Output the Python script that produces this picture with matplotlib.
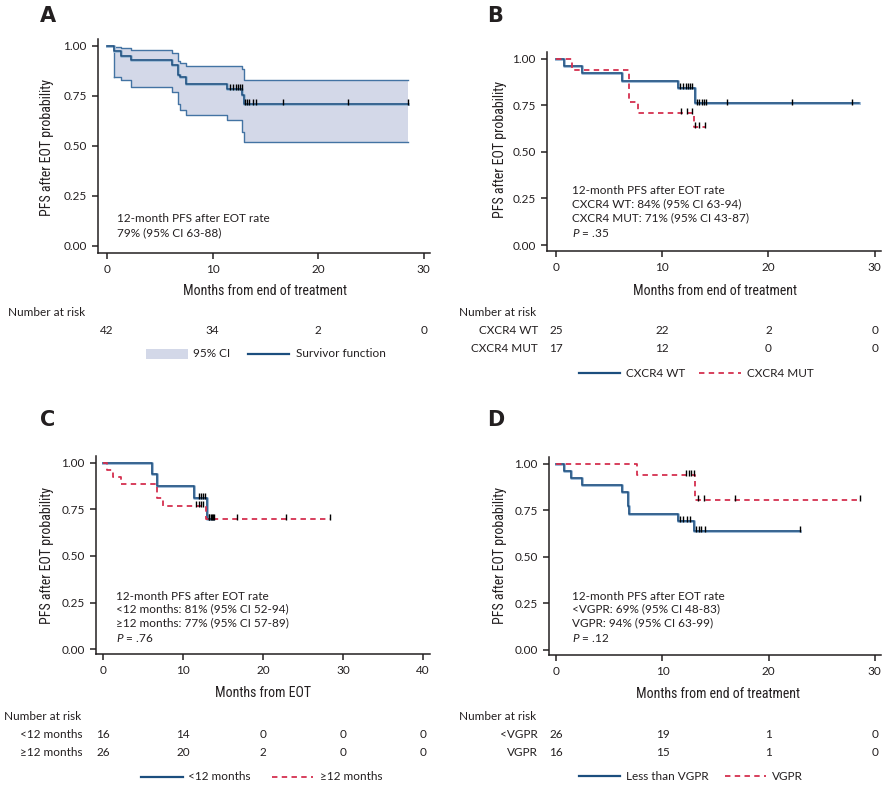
import numpy as np
import matplotlib
matplotlib.use("Agg")
import matplotlib.pyplot as plt
from matplotlib import font_manager
from matplotlib.transforms import blended_transform_factory
from matplotlib.patches import Rectangle
from matplotlib.lines import Line2D

W, H = 891, 790

# ---- data ----
# panel A: all patients
a_times = [0.69, 1.32, 2.26, 6.13, 6.76, 6.9, 7.5, 11.4, 12.8, 12.95]
a_surv = [0.976, 0.952, 0.929, 0.905, 0.857, 0.845, 0.81, 0.787, 0.755, 0.71]
a_upper = [0.997, 0.988, 0.98, 0.966, 0.924, 0.915, 0.899, 0.899, 0.883, 0.831]
a_lower = [0.845, 0.83, 0.797, 0.769, 0.708, 0.68, 0.654, 0.628, 0.57, 0.52]
a_cens = [11.68, 11.93, 12.18, 12.43, 12.62, 12.78, 13.03, 13.25, 13.5, 13.8, 14.07, 16.7, 22.8, 28.5]
a_end = 28.5
a_risk = [42, 34, 2, 0]

# panel B: CXCR4
b_wt_times = [0.75, 2.4, 6.2, 11.45, 13.05]
b_wt_surv = [0.96, 0.92, 0.88, 0.843, 0.759]
b_wt_cens = [11.7, 11.95, 12.2, 12.4, 12.65, 12.83, 13.27, 13.49, 13.71, 13.9, 14.09, 16.1, 22.2, 27.9]
b_wt_end = 28.5
b_mut_times = [1.48, 6.9, 7.7, 12.95]
b_mut_surv = [0.941, 0.765, 0.706, 0.634]
b_mut_cens = [11.76, 12.33, 12.8, 13.1, 13.43, 14.06]
b_mut_end = 14.06
b_risk_wt = [25, 22, 2, 0]
b_risk_mut = [17, 12, 0, 0]

# panel C: time from EOT
c_lt_times = [6.08, 6.8, 11.4, 12.96]
c_lt_surv = [0.9375, 0.875, 0.8125, 0.70]
c_lt_cens = [11.95, 12.28, 12.57, 12.82, 13.2, 13.49, 13.82]
c_lt_end = 13.82
c_ge_times = [0.54, 1.29, 2.2, 6.7, 7.46, 12.9]
c_ge_surv = [0.962, 0.923, 0.885, 0.81, 0.769, 0.70]
c_ge_cens = [11.66, 11.95, 12.28, 12.57, 13.3, 13.6, 13.9, 16.7, 22.9, 28.4]
c_ge_end = 28.4
c_risk_lt = [16, 14, 0, 0, 0]
c_risk_ge = [26, 20, 2, 0, 0]

# panel D: response
d_lt_times = [0.69, 1.42, 2.37, 6.21, 6.78, 6.88, 11.45, 12.93]
d_lt_surv = [0.9615, 0.923, 0.885, 0.846, 0.77, 0.731, 0.693, 0.637]
d_lt_cens = [11.61, 11.92, 12.3, 12.62, 13.12, 13.41, 13.66, 14.04, 22.93]
d_lt_end = 22.93
d_vg_times = [7.63, 13.09]
d_vg_surv = [0.9375, 0.807]
d_vg_cens = [12.24, 12.46, 12.68, 12.93, 13.34, 13.88, 16.81, 28.64]
d_vg_end = 28.64
d_risk_lt = [26, 19, 1, 0]
d_risk_vg = [16, 15, 1, 0]

BLUE = "#1c4e7e"
HALO = "#9dbad6"
RED = "#d4304f"
CI_FILL = "#d3d8e8"
CI_LINE = "#4373a3"
TXT = "#231f20"

names = {f.name for f in font_manager.fontManager.ttflist}
COND = "DejaVu Sans"
for cand in ["Liberation Sans Narrow", "Roboto Condensed", "Open Sans Condensed"]:
    if cand in names:
        COND = cand
        break
cond_size = 10 if COND != "DejaVu Sans" else 8.5

plt.rcParams["font.family"] = ["Lato", "DejaVu Sans"]
plt.rcParams["text.color"] = TXT
plt.rcParams["mathtext.fontset"] = "custom"
plt.rcParams["mathtext.it"] = "Lato:italic"
plt.rcParams["mathtext.rm"] = "Lato"

fig = plt.figure(figsize=(W / 100, H / 100), dpi=100)


def px_axes(left, top, right, bottom):
    return fig.add_axes([left / W, 1 - bottom / H, (right - left) / W, (bottom - top) / H])


def ftext(x, y, s, **kw):
    kw.setdefault("fontsize", 8.5)
    return fig.text(x / W, 1 - y / H, s, **kw)


def step_arrays(times, vals, end):
    x = np.r_[0, times, end]
    y = np.r_[1.0, vals, vals[-1]]
    return x, y


def level_at(times, vals, t):
    i = np.searchsorted(times, t, side="right")
    return 1.0 if i == 0 else vals[i - 1]


def km(ax, times, vals, cens, end, color, dashed=False):
    x, y = step_arrays(times, vals, end)
    if dashed:
        ax.plot(x, y, drawstyle="steps-post", color=color, lw=1.3, dashes=(3, 2.4), zorder=3)
    else:
        ax.plot(x, y, drawstyle="steps-post", color=HALO, lw=2.1, zorder=2)
        ax.plot(x, y, drawstyle="steps-post", color=color, lw=1.1, zorder=3)
    cy = [level_at(times, vals, c) for c in cens]
    ax.plot(cens, np.array(cy) + 0.01, ls="none", marker="|", ms=5, mew=1.0, color="black", zorder=4)


def style(ax, xlim, ylim, xticks):
    ax.set_xlim(*xlim)
    ax.set_ylim(*ylim)
    ax.set_xticks(xticks)
    ax.set_yticks([0, 0.25, 0.5, 0.75, 1.0])
    ax.set_yticklabels(["0.00", "0.25", "0.50", "0.75", "1.00"])
    for s in ["top", "right"]:
        ax.spines[s].set_visible(False)
    for s in ["left", "bottom"]:
        ax.spines[s].set_color(TXT)
        ax.spines[s].set_linewidth(1.1)
    ax.tick_params(direction="out", length=4, width=1.1, color=TXT, labelsize=8.5,
                   labelcolor=TXT)
    ax.tick_params(axis="x", pad=4)
    ax.tick_params(axis="y", pad=4)
    ax.patch.set_alpha(0)


def risk_row(ax, y, ticks, vals):
    tr = blended_transform_factory(ax.transData, fig.transFigure)
    for t, v in zip(ticks, vals):
        ax.text(t, 1 - y / H, str(v), transform=tr, ha="center", va="center", fontsize=8.5)


def leg_line(x0, x1, y, color, dashed=False):
    ln = Line2D([x0 / W, x1 / W], [1 - y / H, 1 - y / H], transform=fig.transFigure,
                color=color, lw=1.6 if not dashed else 1.3)
    if dashed:
        ln.set_dashes((3, 2.4))
    fig.add_artist(ln)


# ---- panel A ----
axA = px_axes(98, 39, 430, 253)
xA, lA = step_arrays(a_times, a_lower, a_end)
_, uA = step_arrays(a_times, a_upper, a_end)
lA[0] = 1.0
axA.fill_between(xA, lA, uA, step="post", color=CI_FILL, lw=0, zorder=1)
axA.plot(xA, uA, drawstyle="steps-post", color=CI_LINE, lw=1.0, zorder=2)
axA.plot(xA[1:], lA[1:], drawstyle="steps-post", color=CI_LINE, lw=1.0, zorder=2)
axA.plot([xA[1], xA[1]], [1.0, lA[1]], color=CI_LINE, lw=1.0, zorder=2)
km(axA, a_times, a_surv, a_cens, a_end, BLUE)
style(axA, (-0.85, 30.6), (-0.035, 1.035), [0, 10, 20, 30])
ftext(117, 219, "12-month PFS after EOT rate", va="center")
ftext(117, 233, "79% (95% CI 63-88)", va="center")
ftext(47, 147, "PFS after EOT probability", rotation=90, ha="center", va="center",
      family=COND, fontsize=cond_size)
ftext(265, 291, "Months from end of treatment", ha="center", va="center",
      family=COND, fontsize=cond_size)
ftext(8, 312, "Number at risk", va="center")
risk_row(axA, 330, [0, 10, 20, 30], a_risk)
fig.add_artist(Rectangle((146 / W, 1 - 359 / H), 42 / W, 10 / H, transform=fig.transFigure,
                         color=CI_FILL, lw=0))
ftext(193, 354, "95% CI", va="center")
leg_line(248, 289, 354, BLUE)
ftext(296, 354, "Survivor function", va="center")
ftext(40, 16, "A", fontsize=15, weight="bold", va="center", family="DejaVu Sans")

# ---- panel B ----
axB = px_axes(547, 52, 881, 251)
km(axB, b_wt_times, b_wt_surv, b_wt_cens, b_wt_end, BLUE)
km(axB, b_mut_times, b_mut_surv, b_mut_cens, b_mut_end, RED, dashed=True)
style(axB, (-0.85, 30.6), (-0.032, 1.035), [0, 10, 20, 30])
ftext(572, 190, "12-month PFS after EOT rate", va="center")
ftext(572, 204, "CXCR4 WT: 84% (95% CI 63-94)", va="center")
ftext(572, 218, "CXCR4 MUT: 71% (95% CI 43-87)", va="center")
ftext(572, 233, "$P$ = .35", va="center")
ftext(500, 150, "PFS after EOT probability", rotation=90, ha="center", va="center",
      family=COND, fontsize=cond_size)
ftext(715, 291, "Months from end of treatment", ha="center", va="center",
      family=COND, fontsize=cond_size)
ftext(459, 312, "Number at risk", va="center")
ftext(538, 330, "CXCR4 WT", va="center", ha="right")
ftext(538, 349, "CXCR4 MUT", va="center", ha="right")
risk_row(axB, 330, [0, 10, 20, 30], b_risk_wt)
risk_row(axB, 349, [0, 10, 20, 30], b_risk_mut)
leg_line(579, 620, 373, BLUE)
ftext(626, 373, "CXCR4 WT", va="center")
leg_line(699, 741, 373, RED, dashed=True)
ftext(747, 373, "CXCR4 MUT", va="center")
ftext(487, 16, "B", fontsize=15, weight="bold", va="center", family="DejaVu Sans")

# ---- panel C ----
axC = px_axes(96, 456, 430, 654)
km(axC, c_lt_times, c_lt_surv, c_lt_cens, c_lt_end, BLUE)
km(axC, c_ge_times, c_ge_surv, c_ge_cens, c_ge_end, RED, dashed=True)
style(axC, (-0.875, 40.9), (-0.025, 1.035), [0, 10, 20, 30, 40])
ftext(116, 596, "12-month PFS after EOT rate", va="center")
ftext(116, 609, "<12 months: 81% (95% CI 52-94)", va="center")
ftext(116, 623, "≥12 months: 77% (95% CI 57-89)", va="center")
ftext(116, 638, "$P$ = .76", va="center")
ftext(47, 555, "PFS after EOT probability", rotation=90, ha="center", va="center",
      family=COND, fontsize=cond_size)
ftext(263, 693, "Months from EOT", ha="center", va="center", family=COND, fontsize=cond_size)
ftext(4, 716, "Number at risk", va="center")
ftext(83, 734, "<12 months", va="center", ha="right")
ftext(83, 753, "≥12 months", va="center", ha="right")
risk_row(axC, 734, [0, 10, 20, 30, 40], c_risk_lt)
risk_row(axC, 753, [0, 10, 20, 30, 40], c_risk_ge)
leg_line(141, 183, 777, BLUE)
ftext(188, 777, "<12 months", va="center")
leg_line(272, 313, 777, RED, dashed=True)
ftext(320, 777, "≥12 months", va="center")
ftext(40, 420, "C", fontsize=15, weight="bold", va="center", family="DejaVu Sans")

# ---- panel D ----
axD = px_axes(549, 457, 881, 655)
km(axD, d_lt_times, d_lt_surv, d_lt_cens, d_lt_end, BLUE)
km(axD, d_vg_times, d_vg_surv, d_vg_cens, d_vg_end, RED, dashed=True)
style(axD, (-0.7, 30.6), (-0.027, 1.035), [0, 10, 20, 30])
ftext(572, 596, "12-month PFS after EOT rate", va="center")
ftext(572, 609, "<VGPR: 69% (95% CI 48-83)", va="center")
ftext(572, 623, "VGPR: 94% (95% CI 63-99)", va="center")
ftext(572, 638, "$P$ = .12", va="center")
ftext(500, 555, "PFS after EOT probability", rotation=90, ha="center", va="center",
      family=COND, fontsize=cond_size)
ftext(718, 694, "Months from end of treatment", ha="center", va="center",
      family=COND, fontsize=cond_size)
ftext(459, 716, "Number at risk", va="center")
ftext(538, 734, "<VGPR", va="center", ha="right")
ftext(538, 753, "VGPR", va="center", ha="right")
risk_row(axD, 734, [0, 10, 20, 30], d_risk_lt)
risk_row(axD, 753, [0, 10, 20, 30], d_risk_vg)
leg_line(579, 620, 776, BLUE)
ftext(626, 776, "Less than VGPR", va="center")
leg_line(725, 766, 776, RED, dashed=True)
ftext(772, 776, "VGPR", va="center")
ftext(487, 420, "D", fontsize=15, weight="bold", va="center", family="DejaVu Sans")

fig.savefig("out.png", dpi=100)
